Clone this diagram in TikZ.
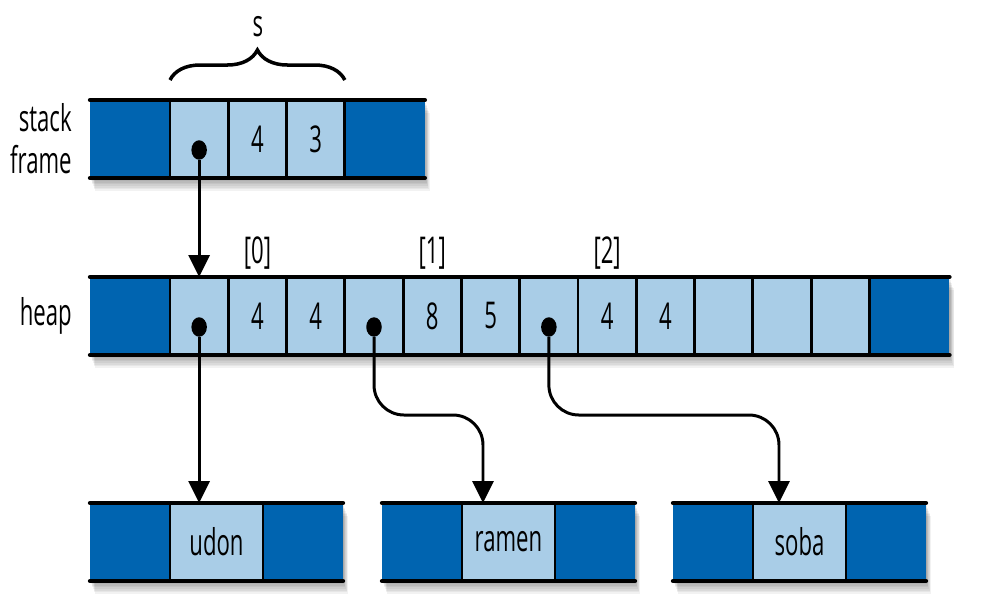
\documentclass[tikz,border=0pt]{standalone}
\usepackage{fontspec}
\setmainfont[FakeStretch=0.6]{Open Sans}
\usetikzlibrary{arrows.meta, calc, positioning, shapes.geometric, decorations.pathreplacing, backgrounds}
\definecolor{cellblue}{HTML}{A9CDE7}
\definecolor{endblue}{HTML}{0064B0}

\begin{document}
\begin{tikzpicture}[x=0.02cm, y=-0.02cm,
  >={Triangle[length=4.4mm, width=4.2mm]},
  endcell/.style={fill=endblue, minimum width=1.6cm, minimum height=1.56cm,
    inner sep=0pt, outer sep=0pt},
  memcell/.style={fill=cellblue, minimum width=1.166cm, minimum height=1.56cm,
    inner sep=0pt, outer sep=0pt, font=\fontsize{21}{24}\selectfont},
  strcell/.style={memcell, minimum width=1.86cm},
  rail/.style={line width=2.5pt, line cap=round},
  wall/.style={line width=1.6pt},
  ptr/.style={line width=1.7pt, ->},
  dot/.style={ellipse, fill=black, minimum width=0.31cm, minimum height=0.39cm, inner sep=0pt},
  lbl/.style={font=\fontsize{21}{24}\selectfont, inner sep=0pt}]

\useasboundingbox (0,0) rectangle (990,608);

% --- Stack frame row ---
\node[endcell] (sL) at (130,139) {};
\node[memcell, right=0pt of sL] (s1) {};
\node[memcell, right=0pt of s1] (s2) {4};
\node[memcell, right=0pt of s2] (s3) {3};
\node[endcell, right=0pt of s3] (sR) {};
\foreach \i in {1,2,3}
  \draw[wall] (s\i.north west) -- (s\i.south west);
\draw[wall] (s3.north east) -- (s3.south east);
\draw[rail] (sL.north west) -- (sR.north east);
\draw[rail] (sL.south west) -- (sR.south east);

% Brace over the three slots of s
\draw[decorate, decoration={brace, amplitude=0.6cm}, line width=2pt]
  ($(s1.north west)+(0,-20)$) -- ($(s3.north east)+(0,-20)$);
\node[lbl] (slbl) at (258,27) {s};

% --- Heap row ---
\node[endcell] (hL) at (130,316) {};
\foreach \i/\v [remember=\i as \j (initially L)] in
    {1/{},2/4,3/4,4/{},5/8,6/5,7/{},8/4,9/4,10/{},11/{},12/{}}
  \node[memcell, right=0pt of h\j] (h\i) {\v};
\node[endcell, right=0pt of h12] (hR) {};
\foreach \i in {1,...,12}
  \draw[wall] (h\i.north west) -- (h\i.south west);
\draw[wall] (h12.north east) -- (h12.south east);
\draw[rail] (hL.north west) -- (hR.north east);
\draw[rail] (hL.south west) -- (hR.south east);

% Element indices
\foreach \c/\k in {h2/0, h5/1, h8/2}
  \node[lbl, above=0.14cm of \c] (idx\k) {[\k]};

% --- String buffers ---
\foreach \n/\t/\x in {u/udon/130, r/ramen/422, b/soba/713} {
  \node[endcell] (\n-L) at (\x,542) {};
  \node[strcell, right=0pt of \n-L] (\n) {\t};
  \node[endcell, right=0pt of \n] (\n-R) {};
  \draw[wall] (\n.north west) -- (\n.south west);
  \draw[wall] (\n.north east) -- (\n.south east);
  \draw[rail] (\n-L.north west) -- (\n-R.north east);
  \draw[rail] (\n-L.south west) -- (\n-R.south east);
}

% Row labels
\node[lbl, align=right, left=0.36cm of sL] (stacklbl) {stack\\frame};
\node[lbl, left=0.36cm of hL] (heaplbl) {heap};

% --- Pointers ---
\node[dot] (p0) at ($(s1.center)+(0,11)$) {};
\node[dot] (p1) at ($(h1.center)+(0,11)$) {};
\node[dot] (p2) at ($(h4.center)+(0,11)$) {};
\node[dot] (p3) at ($(h7.center)+(0,11)$) {};

\coordinate (r-in) at ($(r.north west)+(21,0)$);
\coordinate (b-in) at ($(b.north west)+(26,0)$);

\draw[ptr] (p0) -- (p0 |- h1.north);
\draw[ptr] (p1) -- (p1 |- u.north);
\draw[ptr, rounded corners=0.6cm] (p2) |- ($(r-in)+(0,-88)$) -- (r-in);
\draw[ptr, rounded corners=0.6cm] (p3) |- ($(b-in)+(0,-88)$) -- (b-in);

% --- Drop shadows (behind rows) ---
\begin{scope}[on background layer]
  \foreach \a/\b in {sL/sR, hL/hR, u-L/u-R, r-L/r-R, b-L/b-R}
    \foreach \k in {1,...,8}
      \fill[black, opacity=0.05]
        ($(\a.north west)+(0.6*\k,1.6*\k)$) rectangle ($(\b.south east)+(0.6*\k,1.6*\k)$);
\end{scope}

\end{tikzpicture}
\end{document}
